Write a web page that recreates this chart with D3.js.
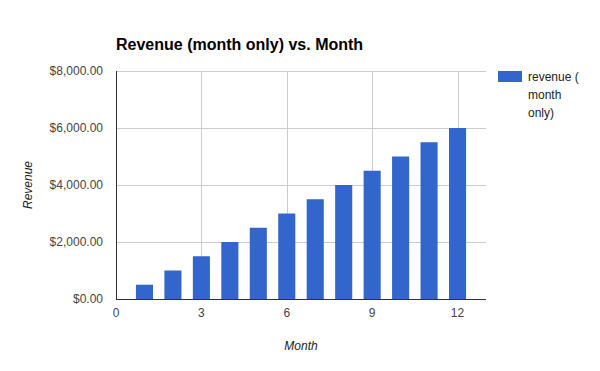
<!DOCTYPE html>
<html>
<head>
<meta charset="utf-8">
<script src="https://cdn.jsdelivr.net/npm/d3@7"></script>
<style>
  body { margin: 0; background: #fff; }
  text { font-family: Arial, "Liberation Sans", sans-serif; }
</style>
</head>
<body>
<div id="chart"></div>
<script>
// chart data
const months = [1, 2, 3, 4, 5, 6, 7, 8, 9, 10, 11, 12];
const revenue = [500, 1000, 1500, 2000, 2500, 3000, 3500, 4000, 4500, 5000, 5500, 6000];
const xTicks = [0, 3, 6, 9, 12];
const yTicks = [0, 2000, 4000, 6000, 8000];
const legendLines = ["revenue (", "month", "only)"];

const width = 600, height = 371;
const plotLeft = 116, plotRight = 486, plotTop = 71, plotBottom = 299;

const svg = d3.select("#chart").append("svg")
    .attr("width", width)
    .attr("height", height);

const x = d3.scaleLinear().domain([0, 13]).range([plotLeft, plotRight]);
const y = d3.scaleLinear().domain([0, 8000]).range([plotBottom, plotTop]);

const fmt = d => "$" + d3.format(",.2f")(d);

//gridlines
svg.append("g")
    .selectAll("line")
    .data(yTicks.filter(d => d > 0))
    .enter().append("line")
    .attr("x1", plotLeft).attr("x2", plotRight)
    .attr("y1", d => y(d) + 0.5).attr("y2", d => y(d) + 0.5)
    .attr("stroke", "#ccc");

svg.append("g")
    .selectAll("line")
    .data(xTicks.filter(d => d > 0))
    .enter().append("line")
    .attr("x1", d => Math.round(x(d)) + 0.5).attr("x2", d => Math.round(x(d)) + 0.5)
    .attr("y1", plotTop).attr("y2", plotBottom)
    .attr("stroke", "#ccc");

//bars
const bw = (x(1) - x(0)) * 0.6;
svg.append("g")
    .selectAll("rect")
    .data(months)
    .enter().append("rect")
    .attr("x", (d) => x(d) - bw / 2)
    .attr("y", (d, i) => y(revenue[i]))
    .attr("width", bw)
    .attr("height", (d, i) => y(0) - y(revenue[i]))
    .style("fill", "#3366cc");

//axis lines
svg.append("line")
    .attr("x1", plotLeft + 0.5).attr("x2", plotLeft + 0.5)
    .attr("y1", plotTop).attr("y2", plotBottom)
    .attr("stroke", "#333");
svg.append("line")
    .attr("x1", plotLeft).attr("x2", plotRight)
    .attr("y1", plotBottom + 0.5).attr("y2", plotBottom + 0.5)
    .attr("stroke", "#333");

//tick labels
svg.append("g")
    .selectAll("text")
    .data(yTicks)
    .enter().append("text")
    .attr("x", 103)
    .attr("y", d => y(d) + 4)
    .attr("text-anchor", "end")
    .attr("font-size", 12)
    .attr("fill", "#444")
    .text(fmt);

svg.append("g")
    .selectAll("text")
    .data(xTicks)
    .enter().append("text")
    .attr("x", d => x(d))
    .attr("y", 317)
    .attr("text-anchor", "middle")
    .attr("font-size", 12)
    .attr("fill", "#444")
    .text(d => d);

//titles
svg.append("text")
    .attr("x", plotLeft)
    .attr("y", 50)
    .attr("font-size", 16)
    .attr("font-weight", "bold")
    .attr("fill", "#000")
    .text("Revenue (month only) vs. Month");

svg.append("text")
    .attr("x", (plotLeft + plotRight) / 2)
    .attr("y", 350)
    .attr("text-anchor", "middle")
    .attr("font-size", 12)
    .attr("font-style", "italic")
    .attr("fill", "#222")
    .text("Month");

svg.append("text")
    .attr("transform", "translate(32," + ((plotTop + plotBottom) / 2) + ") rotate(-90)")
    .attr("text-anchor", "middle")
    .attr("font-size", 12)
    .attr("font-style", "italic")
    .attr("fill", "#222")
    .text("Revenue");

//legend
svg.append("rect")
    .attr("x", 498).attr("y", 71)
    .attr("width", 24).attr("height", 11)
    .style("fill", "#3366cc");

svg.append("g")
    .selectAll("text")
    .data(legendLines)
    .enter().append("text")
    .attr("x", 528)
    .attr("y", (d, i) => 81 + i * 18)
    .attr("font-size", 12)
    .attr("fill", "#222")
    .text(d => d);
</script>
</body>
</html>
